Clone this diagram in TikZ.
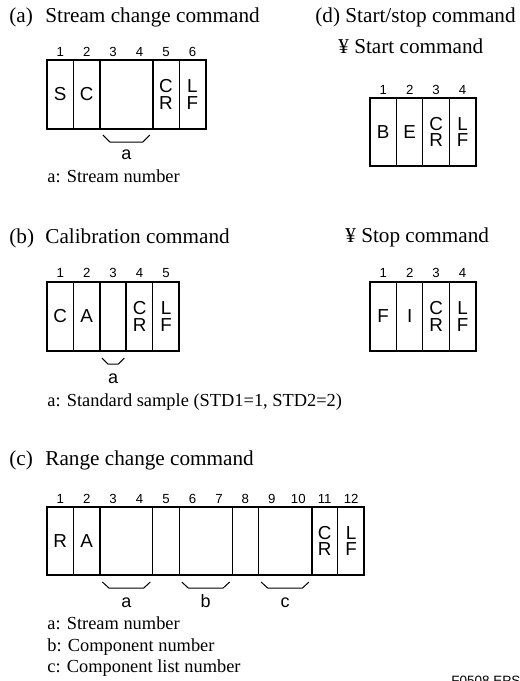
\documentclass[tikz,border=0pt]{standalone}
\usepackage{fontspec}
\usepackage{tikz}
\setmainfont{Liberation Serif}
\newfontfamily\arialfont{Liberation Sans}

\begin{document}
\begin{tikzpicture}[x=0.5pt,y=-0.5pt,
    title/.style={font=\fontsize{10.6}{12}\selectfont, inner sep=0pt, anchor=base west},
    legend/.style={font=\fontsize{9.2}{11}\selectfont, inner sep=0pt, anchor=base west},
    cellnum/.style={font=\arialfont\fontsize{6.6}{6.6}\selectfont, inner sep=0pt, anchor=base},
    cellchar/.style={font=\arialfont\fontsize{9.4}{8.4}\selectfont, inner sep=0pt, align=center},
    fieldlabel/.style={font=\arialfont\fontsize{9}{9}\selectfont, inner sep=0pt, anchor=base},
    frame/.style={line width=1pt},
    sep/.style={line width=0.5pt},
    bracket/.style={line width=0.5pt, line join=round}]
    \useasboundingbox (0,0) rectangle (520,681);
    \pgfmathsetmacro{\w}{26.45}

    % (a) stream change command
    \node[title] (headA) at (9,22) {(a)};
    \node[title] (headAtxt) at (45,22) {Stream change command};
    \draw[frame] (47,60) rectangle ({47+6*\w},129);
    \foreach \k in {1,5} \draw[sep] ({47+\k*\w},60) -- ({47+\k*\w},129);
    \foreach \k in {2,4} \draw[frame] ({47+\k*\w},60) -- ({47+\k*\w},129);
    \foreach \c [count=\i] in {S,C,{},{},{C\\R},{L\\F}} {
        \node[cellnum] (numA\i) at ({47+(\i-0.5)*\w},56) {\i};
        \node[cellchar] (chA\i) at ({47+(\i-0.5)*\w},94.5) {\c};
    }
    % field bracket
    \draw[bracket] ({47+2*\w+3},135) -- ++(7,7) -- ({47+4*\w-10},142) -- ({47+4*\w-3},135);
    \node[fieldlabel] (labA) at ({47+3*\w},159) {a};
    \node[legend] (legA) at (47,182) {a: Stream number};

    % (b) calibration command
    \node[title] (headB) at (9,243) {(b)};
    \node[title] (headBtxt) at (45,243) {Calibration command};
    \draw[frame] (47,282) rectangle ({47+5*\w},351);
    \foreach \k in {1,4} \draw[sep] ({47+\k*\w},282) -- ({47+\k*\w},351);
    \foreach \k in {2,3} \draw[frame] ({47+\k*\w},282) -- ({47+\k*\w},351);
    \foreach \c [count=\i] in {C,A,{},{C\\R},{L\\F}} {
        \node[cellnum] (numB\i) at ({47+(\i-0.5)*\w},277) {\i};
        \node[cellchar] (chB\i) at ({47+(\i-0.5)*\w},316.5) {\c};
    }
    \draw[bracket] ({47+2*\w+2},358) -- ++(6,6) -- ({47+3*\w-8},364) -- ({47+3*\w-2},358);
    \node[fieldlabel] (labB) at ({47+2.5*\w},383) {a};
    \node[legend] (legB) at (47,406) {a: Standard sample (STD1=1, STD2=2)};

    % (c) range change command
    \node[title] (headC) at (9,465) {(c)};
    \node[title] (headCtxt) at (45,465) {Range change command};
    \draw[frame] (47,507) rectangle ({47+12*\w},575);
    \foreach \k in {1,4,5,7,8,11} \draw[sep] ({47+\k*\w},507) -- ({47+\k*\w},575);
    \foreach \k in {2,10} \draw[frame] ({47+\k*\w},507) -- ({47+\k*\w},575);
    \foreach \c [count=\i] in {R,A,{},{},{},{},{},{},{},{},{C\\R},{L\\F}} {
        \node[cellnum] (numC\i) at ({47+(\i-0.5)*\w},503) {\i};
        \node[cellchar] (chC\i) at ({47+(\i-0.5)*\w},541) {\c};
    }
    % field brackets a, b, c
    \foreach \s/\e/\t in {2/4/a,5/7/b,8/10/c} {
        \draw[bracket] ({47+\s*\w+2.5},582) -- ++(6.5,6) -- ({47+\e*\w-9},588) -- ({47+\e*\w-2.5},582);
        \node[fieldlabel] (labC\t) at ({47+(\s+\e)/2*\w},607) {\t};
    }
    \node[legend] (legCa) at (47,629) {a: Stream number};
    \node[legend] (legCb) at (47,651) {b: Component number};
    \node[legend] (legCc) at (47,672) {c: Component list number};

    % (d) start/stop command
    \node[title] (headD) at (315,22) {(d) Start/stop command};
    \node[title] (headStart) at (338,53) {¥ Start command};
    \draw[frame] (370,98) rectangle ({370+4*\w},166);
    \foreach \k in {1,2,3} \draw[sep] ({370+\k*\w},98) -- ({370+\k*\w},166);
    \foreach \c [count=\i] in {B,E,{C\\R},{L\\F}} {
        \node[cellnum] (numS\i) at ({370+(\i-0.5)*\w},94) {\i};
        \node[cellchar] (chS\i) at ({370+(\i-0.5)*\w},132) {\c};
    }
    \node[title] (headStop) at (345,242) {¥ Stop command};
    \draw[frame] (370,282) rectangle ({370+4*\w},351);
    \foreach \k in {1,2,3} \draw[sep] ({370+\k*\w},282) -- ({370+\k*\w},351);
    \foreach \c [count=\i] in {F,I,{C\\R},{L\\F}} {
        \node[cellnum] (numT\i) at ({370+(\i-0.5)*\w},277) {\i};
        \node[cellchar] (chT\i) at ({370+(\i-0.5)*\w},316.5) {\c};
    }

    % figure id
    \node[font=\arialfont\fontsize{6.75}{7}\selectfont, inner sep=0pt, anchor=north west] (figid) at (451,676) {F0508.EPS};
\end{tikzpicture}
\end{document}
